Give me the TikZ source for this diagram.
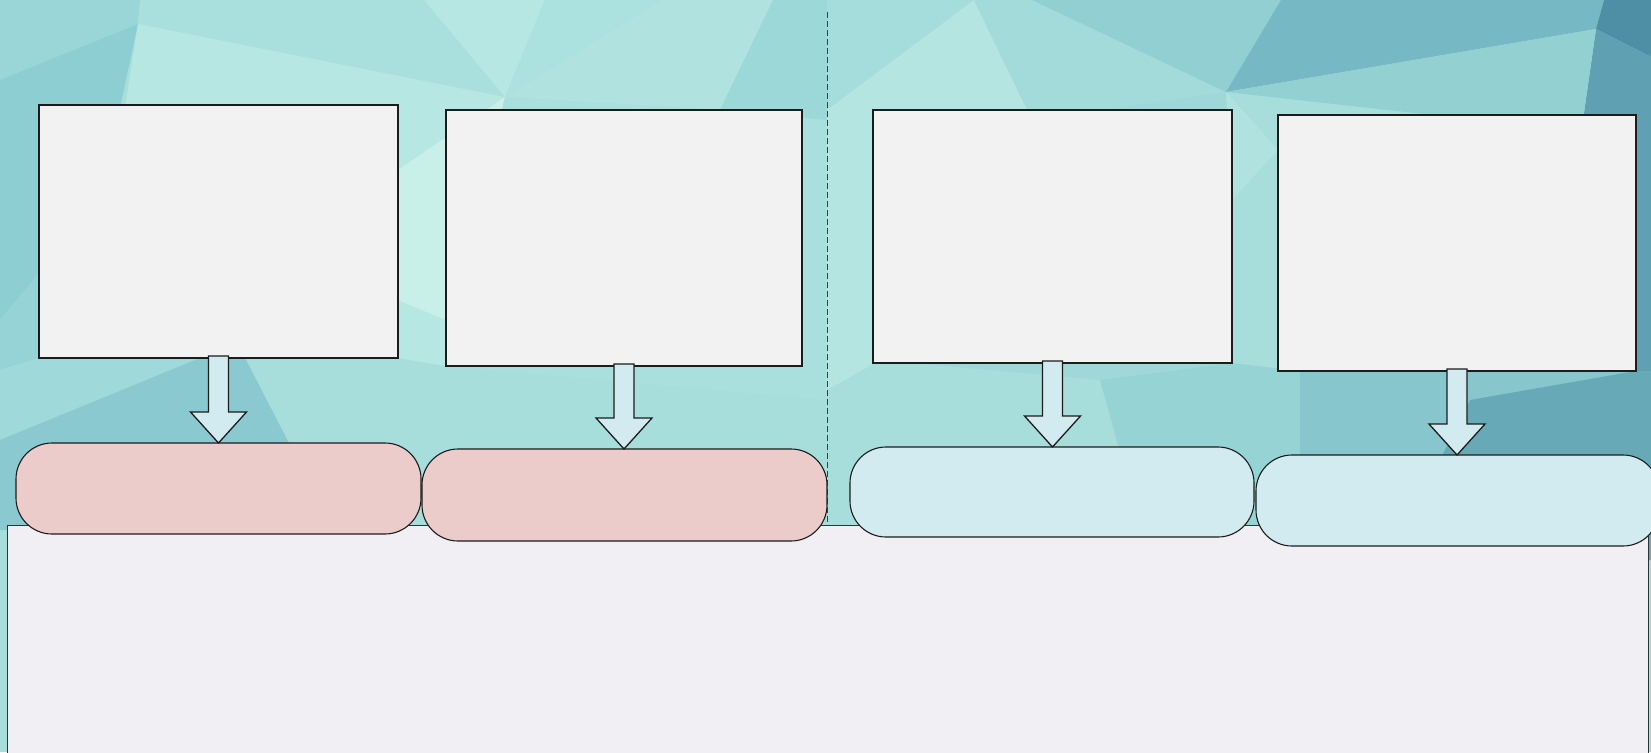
\documentclass[tikz,border=0pt]{standalone}
\usetikzlibrary{calc}
\definecolor{boxfill}{HTML}{F2F2F2}
\definecolor{pinkfill}{HTML}{ECCBCB}
\definecolor{bluefill}{HTML}{D2EBF0}
\definecolor{basefill}{HTML}{F1EFF4}
\definecolor{edge}{HTML}{1C1C1C}
\tikzset{
  box/.style={draw=edge, line width=1.3pt, fill=boxfill, rectangle, anchor=north west, inner sep=0pt, outer sep=0pt},
  pill/.style={draw=edge, line width=1.1pt, rectangle, rounded corners=36pt, anchor=north west, inner sep=0pt, outer sep=0pt},
  pinkpill/.style={pill, fill=pinkfill},
  bluepill/.style={pill, fill=bluefill},
  arrowsty/.style={draw=edge, line width=1.3pt, fill=bluefill, line join=miter},
  divider/.style={draw=black!75, line width=0.9pt, dash pattern=on 6pt off 3pt},
  basebox/.style={draw=black!80, line width=1pt, fill=basefill, rectangle, anchor=north west, inner sep=0pt, outer sep=0pt},
}
\newcommand\myblkarrow[2]{%
  \path[arrowsty] let \p1=(#1.south), \p2=(#2.north) in
    (\x1-10pt,\y1+2pt) -- (\x1+10pt,\y1+2pt) -- (\x1+10pt,\y2+31pt) -- (\x1+28pt,\y2+31pt)
    -- (\x1,\y2) -- (\x1-28pt,\y2+31pt) -- (\x1-10pt,\y2+31pt) -- cycle;}
\begin{document}
\begin{tikzpicture}[x=1pt,y=-1pt]
\clip (0,0) rectangle (1651,752);
% ---------- low-poly background ----------
\fill[fill={rgb,255:red,167;green,222;blue,220}] (0,0) rectangle (1651,752);
\fill[fill={rgb,255:red,154;green,214;blue,215}] (0,0) -- (140,0) -- (138,24) -- (0,80) -- cycle;
\fill[fill={rgb,255:red,140;green,206;blue,210}] (0,80) -- (138,24) -- (100,200) -- (0,320) -- cycle;
\fill[fill={rgb,255:red,150;green,211;blue,214}] (0,320) -- (100,200) -- (39,358) -- (0,370) -- cycle;
\fill[fill={rgb,255:red,160;green,217;blue,218}] (0,370) -- (39,358) -- (200,358) -- (0,440) -- cycle;
\fill[fill={rgb,255:red,137;green,201;blue,207}] (0,440) -- (200,358) -- (245,358) -- (290,445) -- (290,530) -- (0,530) -- cycle;
\fill[fill={rgb,255:red,169;green,224;blue,221}] (140,0) -- (424,0) -- (505,97) -- (138,24) -- cycle;
\fill[fill={rgb,255:red,182;green,231;blue,226}] (424,0) -- (545,0) -- (505,97) -- cycle;
\fill[fill={rgb,255:red,171;green,225;blue,222}] (545,0) -- (662,0) -- (505,97) -- cycle;
\fill[fill={rgb,255:red,176;green,227;blue,224}] (662,0) -- (773,0) -- (720,110) -- (505,97) -- cycle;
\fill[fill={rgb,255:red,157;green,216;blue,216}] (773,0) -- (827,0) -- (827,120) -- (720,110) -- cycle;
\fill[fill={rgb,255:red,183;green,231;blue,226}] (138,24) -- (505,97) -- (446,366) -- (398,358) -- (120,140) -- cycle;
\fill[fill={rgb,255:red,200;green,240;blue,233}] (505,97) -- (398,170) -- (398,300) -- (446,320) -- cycle;
\fill[fill={rgb,255:red,169;green,223;blue,221}] (505,97) -- (720,110) -- (827,120) -- (827,400) -- (446,366) -- cycle;
% right of divider
\fill[fill={rgb,255:red,165;green,220;blue,220}] (827,0) -- (974,0) -- (827,110) -- cycle;
\fill[fill={rgb,255:red,180;green,229;blue,225}] (974,0) -- (827,110) -- (827,390) -- (880,360) -- (1032,120) -- cycle;
\fill[fill={rgb,255:red,163;green,219;blue,219}] (974,0) -- (1032,0) -- (1226,92) -- (1032,120) -- cycle;
\fill[fill={rgb,255:red,145;green,207;blue,210}] (1032,0) -- (1281,0) -- (1226,92) -- cycle;
\fill[fill={rgb,255:red,118;green,185;blue,196}] (1281,0) -- (1604,0) -- (1596,29) -- (1226,92) -- cycle;
\fill[fill={rgb,255:red,78;green,143;blue,165}] (1604,0) -- (1651,0) -- (1651,57) -- (1596,29) -- cycle;
\fill[fill={rgb,255:red,95;green,160;blue,178}] (1596,29) -- (1651,57) -- (1651,560) -- (1583,120) -- cycle;
\fill[fill={rgb,255:red,146;green,208;blue,210}] (1226,92) -- (1596,29) -- (1583,120) -- (1477,120) -- cycle;
\fill[fill={rgb,255:red,176;green,227;blue,224}] (1226,92) -- (1278,150) -- (1232,200) -- cycle;
\fill[fill={rgb,255:red,160;green,216;blue,217}] (1032,120) -- (1226,92) -- (1232,363) -- (1100,380) -- (880,360) -- cycle;
\fill[fill={rgb,255:red,150;green,211;blue,213}] (1100,380) -- (1232,363) -- (1300,371) -- (1300,560) -- (1150,560) -- cycle;
\fill[fill={rgb,255:red,134;green,198;blue,204}] (1300,371) -- (1636,371) -- (1390,560) -- (1300,560) -- cycle;
\fill[fill={rgb,255:red,104;green,169;blue,184}] (1636,371) -- (1651,371) -- (1651,560) -- (1390,560) -- (1470,400) -- cycle;
% ---------- base panel ----------
\node[basebox, minimum width=1641pt, minimum height=240pt] (base) at (7,525) {};
% ---------- divider ----------
\coordinate (dtop) at (827,12);
\coordinate (dbot) at (827,525);
\draw[divider] (dtop) -- (dbot);
% ---------- boxes ----------
\node[box, minimum width=359pt, minimum height=253pt] (b1) at (39,105) {};
\node[box, minimum width=356pt, minimum height=256pt] (b2) at (446,110) {};
\node[box, minimum width=359pt, minimum height=253pt] (b3) at (873,110) {};
\node[box, minimum width=358pt, minimum height=256pt] (b4) at (1278,115) {};
% ---------- pills ----------
\node[pinkpill, minimum width=405pt, minimum height=91pt] (p1) at (16,443) {};
\node[pinkpill, minimum width=405pt, minimum height=92pt] (p2) at (422,449) {};
\node[bluepill, minimum width=404pt, minimum height=90pt] (p3) at (850,447) {};
\node[bluepill, minimum width=403pt, minimum height=91pt] (p4) at (1256,455) {};
% ---------- arrows ----------
\myblkarrow{b1}{p1}
\myblkarrow{b2}{p2}
\myblkarrow{b3}{p3}
\myblkarrow{b4}{p4}
\end{tikzpicture}
\end{document}
